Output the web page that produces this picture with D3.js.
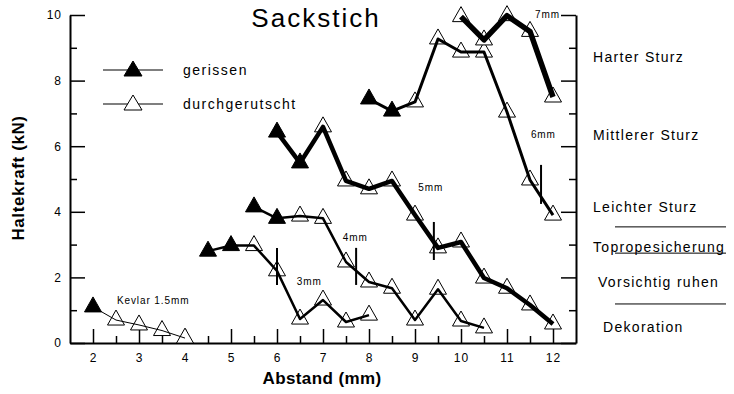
<!DOCTYPE html>
<html>
<head>
<meta charset="utf-8">
<script src="https://cdn.jsdelivr.net/npm/d3@7/dist/d3.min.js"></script>
<style>
  body { margin: 0; background: #fff; }
  svg { display: block; font-family: Arial, "Liberation Sans", sans-serif; }
</style>
</head>
<body>
<svg id="chart"></svg>
<script>
// Abstand (mm) und Haltekraft (kN) je Seildurchmesser
const seriesNames = ['Kevlar 1.5mm', '3mm', '4mm', '5mm', '6mm', '7mm']
const abstandKevlar = [2, 2.5, 3, 3.5, 4]
const kraftKevlar = [1.1, 0.7, 0.55, 0.38, 0.15]
const abstand3 = [4.5, 5, 5.5, 6, 6.5, 7, 7.5, 8]
const kraft3 = [2.8, 2.97, 2.97, 2.2, 0.73, 1.31, 0.64, 0.85]
const abstand4 = [5.5, 6, 6.5, 7, 7.5, 8, 8.5, 9, 9.5, 10, 10.5]
const kraft4 = [4.15, 3.8, 3.87, 3.8, 2.47, 1.86, 1.67, 0.7, 1.64, 0.67, 0.46]
const abstand5 = [6, 6.5, 7, 7.5, 8, 8.5, 9, 9.5, 10, 10.5, 11, 11.5, 12]
const kraft5 = [6.43, 5.49, 6.59, 4.94, 4.7, 4.94, 3.9, 2.9, 3.08, 1.98, 1.67, 1.16, 0.58]
const abstand6 = [8, 8.5, 9, 9.5, 10, 10.5, 11, 11.5, 12]
const kraft6 = [7.44, 7.07, 7.35, 9.27, 8.87, 8.87, 7.04, 4.97, 3.9]
const abstand7 = [10, 10.5, 11, 11.5, 12]
const kraft7 = [9.95, 9.24, 9.98, 9.5, 7.5]
// number of leading points that tore ("gerissen"); the rest slipped through
const gerissenCount = [1, 2, 2, 2, 2, 0]
const lineWidths = [1, 2.5, 2.5, 4.5, 3, 5.5]

// vertical markers: [abstand, from, to]
const marker3 = [6, 1.77, 2.9]
const marker4 = [7.72, 1.77, 2.9]
const marker5 = [9.41, 2.53, 3.69]
const marker6 = [11.74, 4.24, 5.43]

// series label anchors [abstand, kraft]
const labelAnchors = [[2.52, 1.19], [6.43, 1.77], [7.43, 3.11], [9.07, 4.63], [11.52, 6.25], [11.61, 9.91]]

const xTicks = [2, 3, 4, 5, 6, 7, 8, 9, 10, 11, 12]
const xMinorTicks = [2.5, 3.5, 4.5, 5.5, 6.5, 7.5, 8.5, 9.5, 10.5, 11.5]
const yTicks = [0, 2, 4, 6, 8, 10]
const yMinorTicks = [1, 3, 5, 7, 9]

const categories = ['Harter Sturz', 'Mittlerer Sturz', 'Leichter Sturz', 'Topropesicherung', 'Vorsichtig ruhen', 'Dekoration']
const categoryLevels = [8.57, 6.19, 3.99, 2.77, 1.71, 0.34]
const categoryIndent = [0, 0, 0, 0, 5, 10]
const separatorLevels = [3.54, 2.74, 1.19]

var width = 734,
	height = 394

var svg = d3.select('#chart').attr('width', width).attr('height', height)

var x = d3.scaleLinear().domain([1.5, 12.5]).range([70, 576])
var y = d3.scaleLinear().domain([0, 10]).range([343, 15])

const tri = 'M0,-10L8.5,5L-8.5,5Z'

var series = seriesNames.map((name, i) => {
	const xsArr = [abstandKevlar, abstand3, abstand4, abstand5, abstand6, abstand7][i]
	const ysArr = [kraftKevlar, kraft3, kraft4, kraft5, kraft6, kraft7][i]
	return {
		name: name,
		width: lineWidths[i],
		label: labelAnchors[i],
		points: xsArr.map((a, j) => ({ x: a, y: ysArr[j], torn: j < gerissenCount[i] })),
	}
})

// Axes
function styleAxis(g) {
	g.selectAll('path.domain').attr('stroke', '#000').attr('stroke-width', 2)
	g.selectAll('.tick line').attr('stroke', '#000').attr('stroke-width', 1.5)
	g.selectAll('.tick text').attr('fill', '#000').style('font-size', '12px').style('letter-spacing', '1px')
}

svg
	.append('g')
	.attr('transform', 'translate(0,343)')
	.call(d3.axisBottom(x).tickValues(xTicks).tickSizeInner(-14).tickSizeOuter(0).tickPadding(10).tickFormat(d3.format('d')))
	.call(styleAxis)
	.attr('font-family', null)
svg
	.append('g')
	.attr('transform', 'translate(0,343)')
	.call(d3.axisBottom(x).tickValues(xMinorTicks).tickSizeInner(-7).tickSizeOuter(0).tickFormat(''))
	.call(styleAxis)
	.select('path.domain')
	.remove()

svg
	.append('g')
	.attr('transform', 'translate(70,0)')
	.call(d3.axisLeft(y).tickValues(yTicks).tickSizeInner(-15).tickSizeOuter(0).tickPadding(8))
	.call(styleAxis)
	.attr('font-family', null)
svg
	.append('g')
	.attr('transform', 'translate(70,0)')
	.call(d3.axisLeft(y).tickValues(yMinorTicks).tickSizeInner(-7).tickSizeOuter(0).tickFormat(''))
	.call(styleAxis)
	.select('path.domain')
	.remove()

svg
	.append('g')
	.attr('transform', 'translate(576,0)')
	.call(d3.axisRight(y).tickValues(yTicks).tickSizeInner(-15).tickSizeOuter(0).tickFormat(''))
	.call(styleAxis)
svg
	.append('g')
	.attr('transform', 'translate(576,0)')
	.call(d3.axisRight(y).tickValues(yMinorTicks).tickSizeInner(-7).tickSizeOuter(0).tickFormat(''))
	.call(styleAxis)
	.select('path.domain')
	.remove()

// Titles
svg
	.append('text')
	.attr('x', 316)
	.attr('y', 27)
	.attr('text-anchor', 'middle')
	.style('font-size', '26px')
	.style('letter-spacing', '2px')
	.text('Sackstich')

svg
	.append('text')
	.attr('x', 322)
	.attr('y', 384)
	.attr('text-anchor', 'middle')
	.style('font-size', '17px')
	.style('font-weight', 'bold')
	.style('letter-spacing', '0.4px')
	.text('Abstand (mm)')

svg
	.append('text')
	.attr('transform', 'translate(24,178) rotate(-90)')
	.attr('text-anchor', 'middle')
	.style('font-size', '17px')
	.style('font-weight', 'bold')
	.style('letter-spacing', '0.6px')
	.text('Haltekraft (kN)')

// Data: triangles first, lines drawn over them
var plot = svg.append('g')

series.forEach((s) => {
	plot
		.append('g')
		.selectAll('path')
		.data(s.points)
		.join('path')
		.attr('d', tri)
		.attr('transform', (d) => `translate(${x(d.x)},${y(d.y)})`)
		.attr('fill', (d) => (d.torn ? '#000' : '#fff'))
		.attr('stroke', '#000')
		.attr('stroke-width', 1)
})

var line = d3
	.line()
	.x((d) => x(d.x))
	.y((d) => y(d.y))

plot
	.selectAll('.series')
	.data(series)
	.join('path')
	.attr('class', 'series')
	.attr('d', (d) => line(d.points))
	.attr('fill', 'none')
	.attr('stroke', '#000')
	.attr('stroke-width', (d) => d.width)
	.attr('stroke-linejoin', 'round')

plot
	.selectAll('.marker')
	.data([marker3, marker4, marker5, marker6])
	.join('line')
	.attr('class', 'marker')
	.attr('x1', (d) => x(d[0]))
	.attr('x2', (d) => x(d[0]))
	.attr('y1', (d) => y(d[1]))
	.attr('y2', (d) => y(d[2]))
	.attr('stroke', '#000')
	.attr('stroke-width', 2)

plot
	.selectAll('.slabel')
	.data(series)
	.join('text')
	.attr('class', 'slabel')
	.attr('x', (d) => x(d.label[0]))
	.attr('y', (d) => y(d.label[1]))
	.style('font-size', '10px')
	.style('letter-spacing', '0.9px')
	.text((d) => d.name)

// Legend
var legend = svg.append('g')
var legendItems = [
	{ text: 'gerissen', torn: true },
	{ text: 'durchgerutscht', torn: false },
]
var li = legend
	.selectAll('g')
	.data(legendItems)
	.join('g')
	.attr('transform', (d, i) => `translate(0,${70 + i * 34})`)
li.append('line').attr('x1', 103).attr('x2', 163).attr('stroke', '#000').attr('stroke-width', 1.2)
li.append('path')
	.attr('d', 'M0,-9L9,6L-9,6Z')
	.attr('transform', 'translate(133,0)')
	.attr('fill', (d) => (d.torn ? '#000' : '#fff'))
	.attr('stroke', '#000')
li.append('text')
	.attr('x', 183)
	.attr('y', 5)
	.style('font-size', '14px')
	.style('letter-spacing', '1.5px')
	.text((d) => d.text)

// Right-hand categories
svg
	.append('g')
	.selectAll('text')
	.data(categories)
	.join('text')
	.attr('x', (d, i) => 593 + categoryIndent[i])
	.attr('y', (d, i) => y(categoryLevels[i]))
	.style('font-size', '14px')
	.style('letter-spacing', '1.3px')
	.text((d) => d)

svg
	.append('g')
	.selectAll('line')
	.data(separatorLevels)
	.join('line')
	.attr('x1', 615)
	.attr('x2', 726)
	.attr('y1', (d) => y(d))
	.attr('y2', (d) => y(d))
	.attr('stroke', '#000')
	.attr('stroke-width', 1)
</script>
</body>
</html>
